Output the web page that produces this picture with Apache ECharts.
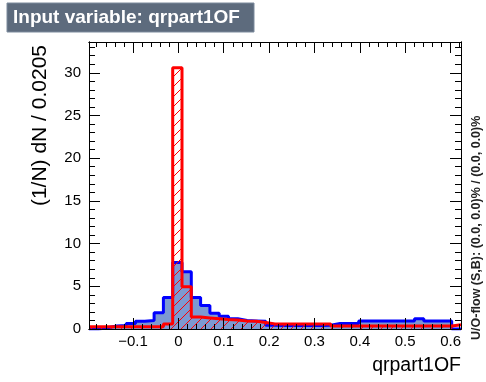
<!DOCTYPE html>
<html>
<head>
<meta charset="utf-8">
<script src="https://cdn.jsdelivr.net/npm/echarts@6/dist/echarts.min.js"></script>
<style>
  html, body { margin: 0; padding: 0; background: #fff; }
  #chart { width: 486px; height: 382px; }
</style>
</head>
<body>
<div id="chart"></div>
<script>
// histogram binning (40 bins, width shown in y title)
const binLow = -0.197
const binWidth = 0.0205

// signal (blue, filled) - normalised entries per bin
const signal = [
  0, 0.15, 0.35, 0.4, 0.65, 0.9, 1.0, 1.9, 3.7, 7.8,
  6.7, 3.7, 2.75, 1.85, 1.5, 1.2, 1.0, 0.95, 0.9, 0.45,
  0.4, 0.4, 0.4, 0.4, 0.4, 0.45, 0.65, 0.65, 0.65, 0.95,
  0.95, 0.95, 0.95, 0.95, 0.95, 1.2, 0.95, 0.95, 0.95, 0
]

// background (red, hatched)
const background = [
  0.25, 0.25, 0.25, 0.25, 0.25, 0.25, 0.25, 0.25, 0.6, 30.6,
  4.95, 1.4, 1.3, 1.2, 1.1, 1.05, 0.95, 0.9, 0.75, 0.6,
  0.6, 0.6, 0.6, 0.6, 0.6, 0.6, 0.35, 0.35, 0.35, 0.35,
  0.35, 0.35, 0.35, 0.35, 0.35, 0.35, 0.35, 0.35, 0.35, 0.5
]

// tick positions
const xMajorTicks = [-0.1, 0, 0.1, 0.2, 0.3, 0.4, 0.5, 0.6]
const yMajorTicks = [0, 5, 10, 15, 20, 25, 30]
const yMax = 33.6

const xMin = binLow
const xMax = binLow + signal.length * binWidth

const xMinorTicks = []
for (let i = -9; i <= 31; i++) xMinorTicks.push(Math.round(i * 2) / 100)
const yMinorTicks = []
for (let i = 0; i <= 33; i++) yMinorTicks.push(i)

// step outline points: left edge of every bin + right edge of the last one
function steps(vals) {
  const pts = vals.map((v, i) => [binLow + i * binWidth, v])
  pts.push([binLow + vals.length * binWidth, vals[vals.length - 1]])
  return pts
}

// ROOT-like "/" hatch for the background fill
const hatch = document.createElement('canvas')
hatch.width = 10
hatch.height = 10
const hctx = hatch.getContext('2d')
hctx.strokeStyle = '#ff0000'
hctx.lineWidth = 1
hctx.beginPath()
hctx.moveTo(0, 10); hctx.lineTo(10, 0)
hctx.moveTo(-1, 1); hctx.lineTo(1, -1)
hctx.moveTo(9, 11); hctx.lineTo(11, 9)
hctx.stroke()

const FONT = '"Liberation Sans", Arial, Helvetica, sans-serif'
const axisLineStyle = { color: '#000', width: 1 }

function fmtX(v) {
  return v < 0 ? '\u2212' + String(Math.abs(v)) : String(v)
}

function xAxis(position, ticks, len, showLabels) {
  return {
    type: 'value',
    position: position,
    min: xMin,
    max: xMax,
    z: 5,
    axisLine: { show: true, onZero: false, lineStyle: axisLineStyle },
    axisTick: { show: true, inside: true, length: len, customValues: ticks, lineStyle: axisLineStyle },
    axisLabel: showLabels ? {
      show: true, customValues: ticks, formatter: fmtX,
      color: '#000', fontSize: 15, fontFamily: FONT, margin: 5
    } : { show: false },
    splitLine: { show: false }
  }
}

function yAxis(position, ticks, len, showLabels) {
  return {
    type: 'value',
    position: position,
    min: 0,
    max: yMax,
    z: 5,
    axisLine: { show: true, onZero: false, lineStyle: axisLineStyle },
    axisTick: { show: true, inside: true, length: len, customValues: ticks, lineStyle: axisLineStyle },
    axisLabel: showLabels ? {
      show: true, customValues: ticks,
      color: '#000', fontSize: 15, fontFamily: FONT, margin: 8
    } : { show: false },
    splitLine: { show: false }
  }
}

const chart = echarts.init(document.getElementById('chart'))

chart.setOption({
  animation: false,
  backgroundColor: '#fff',
  grid: { left: 89, top: 42, width: 372, height: 287, containLabel: false },
  xAxis: [
    xAxis('bottom', xMajorTicks, 11, true),
    xAxis('bottom', xMinorTicks, 5, false),
    xAxis('top', xMajorTicks, 11, false),
    xAxis('top', xMinorTicks, 5, false)
  ],
  yAxis: [
    yAxis('left', yMajorTicks, 11, true),
    yAxis('left', yMinorTicks, 6, false),
    yAxis('right', yMajorTicks, 11, false),
    yAxis('right', yMinorTicks, 6, false)
  ],
  series: [
    {
      name: 'Signal',
      type: 'line',
      step: 'end',
      data: steps(signal),
      symbol: 'none',
      lineStyle: { color: '#0000ff', width: 3 },
      areaStyle: { color: '#7d99d1', opacity: 1 },
      z: 2
    },
    {
      name: 'Background',
      type: 'line',
      step: 'end',
      data: steps(background),
      symbol: 'none',
      lineStyle: { color: '#ff0000', width: 3 },
      areaStyle: { color: { image: hatch, repeat: 'repeat' }, opacity: 1 },
      z: 3
    }
  ],
  graphic: [
    {
      type: 'rect',
      shape: { x: 7, y: 3, width: 247, height: 29 },
      style: { fill: '#5d6b7d', stroke: '#7d8b9d', lineWidth: 1 }
    },
    {
      type: 'text',
      x: 13, y: 18,
      style: {
        text: 'Input variable: qrpart1OF',
        fill: '#fff', font: 'bold 19px ' + FONT,
        textAlign: 'left', textVerticalAlign: 'middle'
      }
    },
    {
      type: 'text',
      x: 40, y: 45,
      rotation: Math.PI / 2,
      style: {
        text: '(1/N) dN / 0.0205',
        fill: '#000', font: '21px ' + FONT,
        textAlign: 'right', textVerticalAlign: 'middle'
      }
    },
    {
      type: 'text',
      x: 461, y: 366,
      style: {
        text: 'qrpart1OF',
        fill: '#000', font: '19.5px ' + FONT,
        textAlign: 'right', textVerticalAlign: 'middle'
      }
    },
    {
      type: 'text',
      x: 477, y: 340,
      rotation: Math.PI / 2,
      style: {
        text: 'U/O-flow (S,B): (0.0, 0.0)% / (0.0, 0.0)%',
        fill: '#222', font: 'bold 12.5px ' + FONT,
        textAlign: 'left', textVerticalAlign: 'middle'
      }
    }
  ]
})
</script>
</body>
</html>
